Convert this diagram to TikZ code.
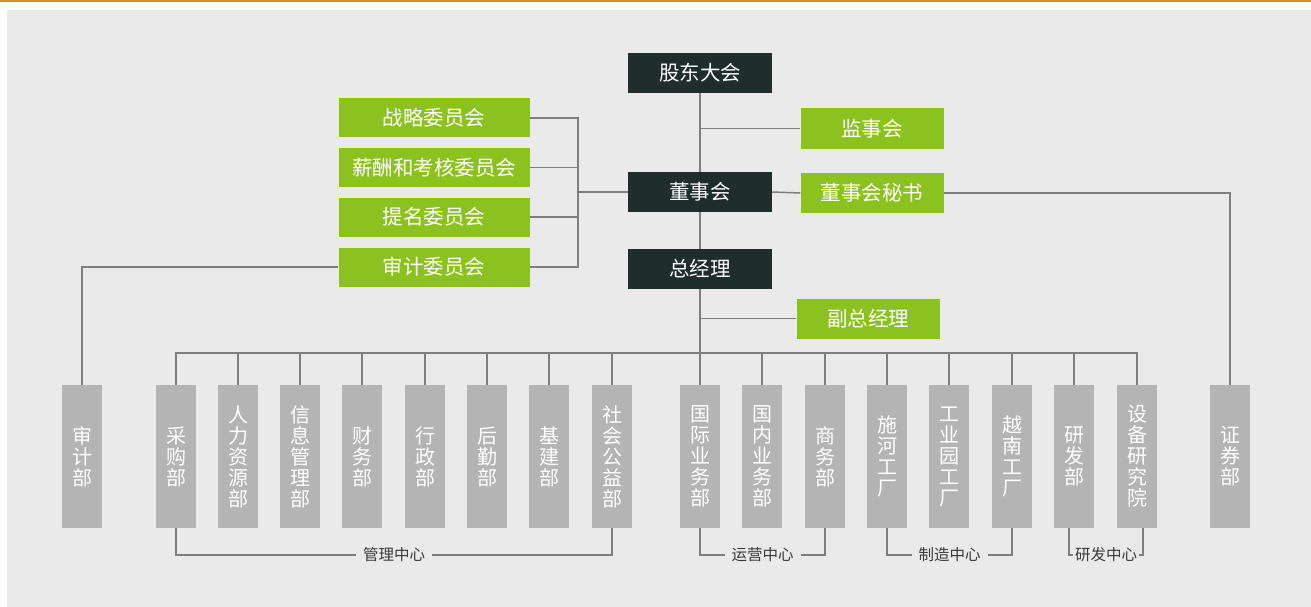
\documentclass[tikz,border=0pt]{standalone}
\usepackage{fontspec}
\newfontfamily\cjk{Noto Sans CJK SC}
\usetikzlibrary{calc}
\definecolor{bgc}{HTML}{EAEAEA}
\definecolor{darkbox}{HTML}{1F2D2B}
\definecolor{gboxc}{HTML}{8CC21F}
\definecolor{colgray}{HTML}{B4B4B4}
\definecolor{linegray}{HTML}{7E7E7E}
\definecolor{labelc}{HTML}{3A3A3A}
\definecolor{topline}{HTML}{F0821E}
\begin{document}
\begin{tikzpicture}[x=1pt,y=-1pt,
  dbox/.style={fill=darkbox, text=white, minimum width=144pt, minimum height=40pt, inner sep=0pt, font=\cjk\fontsize{20.5}{24}\selectfont},
  gbox/.style={fill=gboxc, text=white, minimum width=143pt, minimum height=40pt, inner sep=0pt, font=\cjk\fontsize{20.5}{24}\selectfont},
  cbox/.style={fill=gboxc, text=white, minimum width=191pt, minimum height=39pt, inner sep=0pt, font=\cjk\fontsize{20.5}{24}\selectfont},
  col/.style={fill=colgray, text=white, minimum width=40pt, minimum height=143pt, inner sep=0pt, align=center, font=\cjk\fontsize{20}{21}\selectfont},
  conn/.style={draw=linegray, line width=1.5pt},
  clab/.style={fill=bgc, text=labelc, font=\cjk\fontsize{15.5}{18}\selectfont, inner xsep=7pt, inner ysep=1pt}
]
\useasboundingbox (0,0) rectangle (1311,607);
\fill[white] (0,0) rectangle (1311,607);
\fill[bgc] (7,10) rectangle (1311,607);
\fill[topline] (0,0) rectangle (1311,2.5);

% top chain
\node[dbox] (gd) at (700,73) {股东大会};
\node[dbox] (ds) at (700,192) {董事会};
\node[dbox] (zjl) at (700,269) {总经理};
\node[gbox] (jsh) at (872,128.5) {监事会};
\node[gbox] (ms) at (872,193) {董事会秘书};
\node[gbox] (fz) at (868,318.5) {副总经理};

% committees
\node[cbox] (zl) at (434,118) {战略委员会};
\node[cbox] (xc) at (434,167.5) {薪酬和考核委员会};
\node[cbox] (tm) at (434,217) {提名委员会};
\node[cbox] (sjw) at (434,267) {审计委员会};

% columns
\foreach \n/\x/\t in {sj/82/审\\计\\部, cg/176/采\\购\\部, rl/238/人\\力\\资\\源\\部, xx/300/信\\息\\管\\理\\部,
  cw/362/财\\务\\部, xz/425/行\\政\\部, hq/487/后\\勤\\部, jj/549/基\\建\\部, sh/612/社\\会\\公\\益\\部,
  gj/700/国\\际\\业\\务\\部, gn/762/国\\内\\业\\务\\部, sw/825/商\\务\\部, shg/887/施\\河\\工\\厂,
  gy/949/工\\业\\园\\工\\厂, yn/1012/越\\南\\工\\厂, yf/1074/研\\发\\部, sb/1137/设\\备\\研\\究\\院, zq/1230/证\\券\\部}
  {\node[col] (\n) at (\x,456.5) {\t};}

\coordinate (bus) at (0,353);
\coordinate (bot) at (0,555);

% connectors
\draw[conn] (gd.south) -- (ds.north);
\draw[conn] (ds.south) -- (zjl.north);
\draw[conn] (zjl.south) -- (gj.north);
\draw[conn] (gd.south |- jsh.west) -- (jsh.west);
\draw[conn] (ds.east) -- (ms.west);
\draw[conn] (ms.east) -| (zq.north);
\draw[conn] (zjl.south |- fz.west) -- (fz.west);

\coordinate (brk) at (578,192);
\draw[conn] (zl.east) -- (brk |- zl.east) -- (brk |- sjw.east) -- (sjw.east);
\draw[conn] (xc.east) -- (brk |- xc.east);
\draw[conn] (tm.east) -- (brk |- tm.east);
\draw[conn] (brk) -- (ds.west);
\draw[conn] (sjw.west) -| (sj.north);

\draw[conn] (cg.north) -- (cg.north |- bus) -- (sb.north |- bus) -- (sb.north);
\foreach \n in {rl,xx,cw,xz,hq,jj,sh,gn,sw,shg,gy,yn,yf}
  \draw[conn] (\n.north) -- (\n.north |- bus);

% bottom groups
\draw[conn] (cg.south) -- (cg.south |- bot) -- (sh.south |- bot) -- (sh.south);
\node[clab] (l1) at ($(cg.south |- bot)!0.5!(sh.south |- bot)$) {管理中心};
\draw[conn] (gj.south) -- (gj.south |- bot) -- (sw.south |- bot) -- (sw.south);
\node[clab] (l2) at ($(gj.south |- bot)!0.5!(sw.south |- bot)$) {运营中心};
\draw[conn] (shg.south) -- (shg.south |- bot) -- (yn.south |- bot) -- (yn.south);
\node[clab] (l3) at ($(shg.south |- bot)!0.5!(yn.south |- bot)$) {制造中心};
\coordinate (yfl) at ($(yf.south)+(-5,0)$);
\coordinate (sbr) at ($(sb.south)+(6,0)$);
\draw[conn] (yfl) -- (yfl |- bot) -- (sbr |- bot) -- (sbr);
\node[clab, inner xsep=2pt] (l4) at ($(yfl |- bot)!0.5!(sbr |- bot)$) {研发中心};
\end{tikzpicture}
\end{document}
